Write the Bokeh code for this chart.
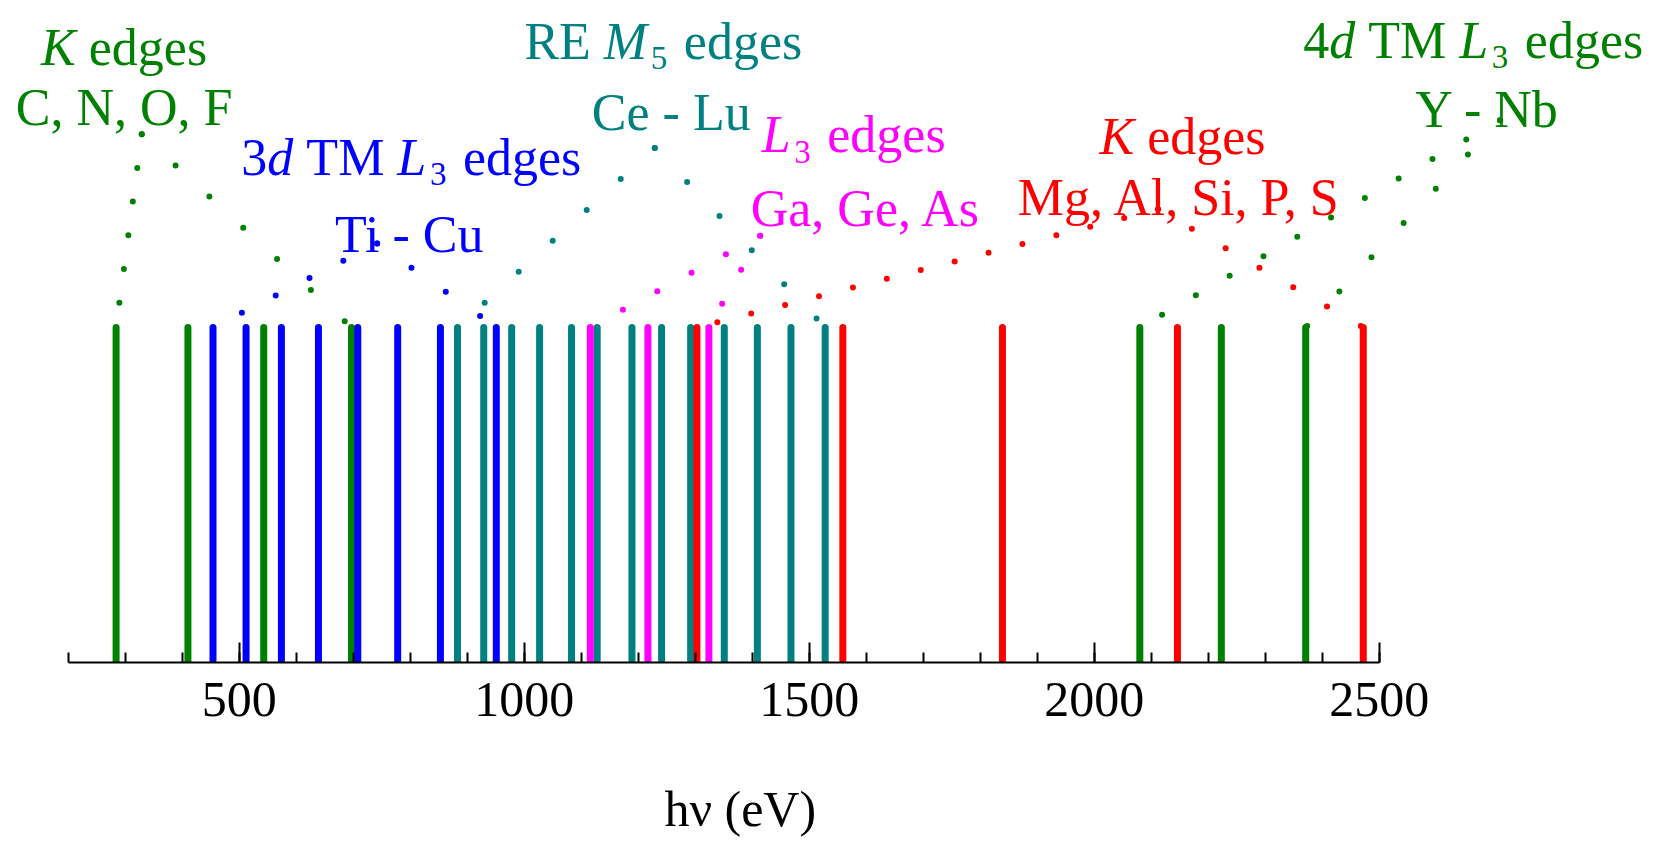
import math
from bokeh.plotting import figure
from bokeh.models import Range1d, LinearAxis, FixedTicker
from bokeh.core.properties import value
from bokeh.embed import file_html
from bokeh.resources import INLINE

# ---------------- data: absorption-edge energies (eV) ----------------
k_light_elements = ["C", "N", "O", "F"]
k_light_edges = [284, 410, 543, 697]

tm3d_elements = ["Ti", "V", "Cr", "Mn", "Fe", "Co", "Ni", "Cu"]
tm3d_edges = [454, 512, 574, 639, 708, 778, 853, 951]

re_elements = ["Ce", "Pr", "Nd", "Pm", "Sm", "Eu", "Gd", "Tb", "Dy", "Ho", "Er", "Tm", "Yb"]
re_edges = [883, 929, 978, 1027, 1083, 1128, 1189, 1241, 1292, 1351, 1409, 1468, 1528]

l3_elements = ["Ga", "Ge", "As"]
l3_edges = [1116, 1217, 1324]

k_heavy_elements = ["Mg", "Al", "Si", "P", "S"]
k_heavy_edges = [1303, 1559, 1839, 2146, 2472]

tm4d_elements = ["Y", "Zr", "Nb"]
tm4d_edges = [2080, 2223, 2371]

major_ticks = [500, 1000, 1500, 2000, 2500]
minor_ticks = list(range(200, 2501, 100))
axis_bounds = (200, 2500)
x_label = "hν (eV)"

# label texts: (text, italic, subscript)
title_k_light = [("K", True, False), (" edges", False, False)]
sub_k_light = [("C, N, O, F", False, False)]
title_tm3d = [("3", False, False), ("d", True, False), (" TM ", False, False),
              ("L", True, False), ("3", False, True), (" edges", False, False)]
sub_tm3d = [("Ti - Cu", False, False)]
title_re = [("RE ", False, False), ("M", True, False), ("5", False, True), (" edges", False, False)]
sub_re = [("Ce - Lu", False, False)]
title_l3 = [("L", True, False), ("3", False, True), (" edges", False, False)]
sub_l3 = [("Ga, Ge, As", False, False)]
title_k_heavy = [("K", True, False), (" edges", False, False)]
sub_k_heavy = [("Mg, Al, Si, P, S", False, False)]
title_tm4d = [("4", False, False), ("d", True, False), (" TM ", False, False),
              ("L", True, False), ("3", False, True), (" edges", False, False)]
sub_tm4d = [("Y - Nb", False, False)]

# ---------------- layout / style ----------------
W, H = 1642, 840
FRAME_H = 662
X0, X1 = 81.2, 2961.9
PX_Y = 335.0
Y1 = FRAME_H / PX_Y
PX_E = W / (X1 - X0)
FONT = "Liberation Serif"
TEXT_SIZE = 52
SUB_SCALE = 0.63
SUB_DROP = 17
SUB_GAP = 0.07
TEXT_LIFT = 7 / PX_Y
LABEL_SIZE = 50

GREEN, BLUE, TEAL, MAGENTA, RED = "#008000", "#0000FF", "#008080", "#FF00FF", "#FF0000"

REG = {' ': 0.25, ',': 0.25, '-': 0.333, '3': 0.5, '4': 0.5, '5': 0.5,
       'A': 0.722, 'C': 0.667, 'E': 0.611, 'F': 0.556, 'G': 0.722, 'K': 0.722,
       'L': 0.611, 'M': 0.889, 'N': 0.722, 'O': 0.722, 'P': 0.556, 'R': 0.667,
       'S': 0.556, 'T': 0.611, 'Y': 0.722, 'a': 0.444, 'b': 0.5, 'd': 0.5,
       'e': 0.444, 'g': 0.5, 'i': 0.278, 'l': 0.278, 's': 0.389, 'u': 0.5}
ITA = {'d': 0.5, 'K': 0.667, 'L': 0.556, 'M': 0.833}

p = figure(width=W, height=H, x_range=Range1d(X0, X1), y_range=Range1d(0, Y1),
           output_backend="svg", toolbar_location=None,
           x_axis_type=None, y_axis_type=None,
           min_border_left=0, min_border_right=0, min_border_top=0,
           min_border_bottom=H - FRAME_H)
p.outline_line_color = None
p.background_fill_color = "white"
p.border_fill_color = "white"

# The axis title is centred on the whole frame by Bokeh; pad it with
# no-break spaces so that the visible text is centred under the bounded axis.
frame_mid_px = W / 2
axis_mid_px = (sum(axis_bounds) / 2 - X0) * PX_E + 16
n_pad = max(0, round(2 * (frame_mid_px - axis_mid_px) / (REG[' '] * LABEL_SIZE)))

axis = LinearAxis(bounds=axis_bounds,
                  ticker=FixedTicker(ticks=major_ticks, minor_ticks=minor_ticks))
axis.axis_line_color = "black"
axis.axis_line_width = 2
axis.major_tick_line_color = "black"
axis.major_tick_line_width = 2
axis.minor_tick_line_color = "black"
axis.minor_tick_line_width = 2
axis.major_tick_in = 20
axis.major_tick_out = 0
axis.minor_tick_in = 10
axis.minor_tick_out = 0
axis.major_label_text_font = FONT
axis.major_label_text_font_size = "%dpx" % LABEL_SIZE
axis.major_label_text_color = "black"
axis.major_label_standoff = 20
axis.axis_label = x_label + "\u00a0" * n_pad
axis.axis_label_text_font = FONT
axis.axis_label_text_font_size = "%dpx" % LABEL_SIZE
axis.axis_label_text_font_style = "normal"
axis.axis_label_text_color = "black"
axis.axis_label_standoff = 62
p.add_layout(axis, "below")


def edge_lines(edges, color):
    p.segment(x0=edges, y0=[0] * len(edges), x1=edges, y1=[1] * len(edges),
              line_color=color, line_width=7, line_cap="round")


def arm(xa, ya, xb, yb, color):
    dx = (xb - xa) * PX_E
    dy = (yb - ya) * PX_Y
    length = math.hypot(dx, dy)
    step = 34 * length / max(abs(dx), abs(dy))
    p.line([xa, xb], [ya, yb], line_color=color, line_width=6,
           line_cap="round", line_dash="0 %d" % round(step))


def bracket(edges, apex, color):
    # dots start at the apex and run down to the outermost edge lines
    arm(apex[0], apex[1], min(edges), 1.0, color)
    arm(apex[0], apex[1], max(edges), 1.0, color)


def rich(x, y, pieces, color, size=TEXT_SIZE):
    widths = []
    for text, ital, sub in pieces:
        fs = size * SUB_SCALE if sub else size
        table = ITA if ital else REG
        w = sum(table.get(c, REG.get(c, 0.5)) for c in text) * fs
        if sub:
            w += 2 * SUB_GAP * size
        widths.append(w)
    cur = -sum(widths) / 2
    for (text, ital, sub), w in zip(pieces, widths):
        fs = size * SUB_SCALE if sub else size
        lead = len(text) - len(text.lstrip(' '))
        xpx = cur + lead * REG[' '] * fs + (SUB_GAP * size if sub else 0)
        yy = y + TEXT_LIFT - (SUB_DROP / PX_Y if sub else 0)
        p.text(x=[x + xpx / PX_E], y=[yy], text=[text.strip(' ')],
               text_font=value(FONT), text_font_size="%dpx" % round(fs),
               text_font_style="italic" if ital else "normal",
               text_color=color, text_align="left", text_baseline="alphabetic")
        cur += w


groups = [
    (k_light_edges, GREEN, (329, 1.577), title_k_light, sub_k_light, (298, 1.816), (298, 1.637)),
    (tm3d_edges, BLUE, (742, 1.251), title_tm3d, sub_tm3d, (802, 1.488), (800, 1.258)),
    (re_edges, TEAL, (1229, 1.536), title_re, sub_re, (1244, 1.834), (1258, 1.62)),
    (l3_edges, MAGENTA, (1414, 1.274), title_l3, sub_l3, (1578, 1.555), (1600, 1.333)),
    (k_heavy_edges, RED, (2112, 1.353), title_k_heavy, sub_k_heavy, (2155, 1.55), (2155, 1.368)),
    (tm4d_edges, GREEN, (2712, 1.619), title_tm4d, sub_tm4d, (2665, 1.837), (2690, 1.63)),
]

for edges, color, apex, t1, t2, pos1, pos2 in groups:
    bracket(edges, apex, color)

for edges, color, apex, t1, t2, pos1, pos2 in groups:
    edge_lines(edges, color)

for edges, color, apex, t1, t2, pos1, pos2 in groups:
    rich(pos1[0], pos1[1], t1, color)
    rich(pos2[0], pos2[1], t2, color)

open("out.html", "w").write(file_html(p, INLINE))
